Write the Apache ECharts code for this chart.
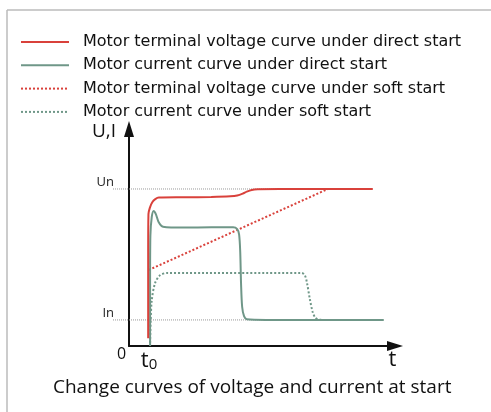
<!DOCTYPE html>
<html>
<head>
<meta charset="utf-8">
<script src="https://cdn.jsdelivr.net/npm/echarts@6/dist/echarts.min.js"></script>
<style>
  html, body { margin: 0; padding: 0; background: #fff; }
  #chart { width: 491px; height: 412px; }
</style>
</head>
<body>
<div id="chart"></div>
<script>
// time in arbitrary units, values in % of Un
const seriesNames = [
  'Motor terminal voltage curve under direct start',
  'Motor current curve under direct start',
  'Motor terminal voltage curve under soft start',
  'Motor current curve under soft start'
]
const voltageDirect = [[7.0, 5], [7.0, 60], [7.1, 84], [7.6, 88], [8.5, 91.5], [9.6, 93.5], [10.9, 94.5], [20, 94.7], [30, 94.9], [37, 95.3], [39.5, 95.8], [41.5, 97], [43, 98.3], [44.8, 99.4], [47, 99.8], [55, 100], [89, 100]]
const currentDirect = [[7.7, 0], [7.7, 40], [7.8, 70], [8.3, 82], [9.0, 86], [9.8, 84], [10.8, 79], [12.4, 76], [20, 75.4], [30, 75.6], [38, 75.6], [39.5, 74.5], [40.2, 71], [40.6, 60], [40.9, 40], [41.3, 25], [42, 19], [43, 17], [50, 16.6], [93, 16.6]]
const voltageSoft = [[7.2, 48.4], [72.6, 100]]
const currentSoft = [[7.7, 2], [7.9, 15], [8.3, 29], [9.5, 40], [11.3, 45], [13.9, 46.5], [63, 46.5], [64.2, 45], [65, 40], [66, 30], [67, 22], [68, 18], [69.5, 16.8], [72, 16.6]]
const unLine = [[-5.8, 100], [54.4, 100]]
const inLine = [[-5.8, 16.6], [54.4, 16.6]]
const yTickValues = [16.6, 100]
const yTickLabels = ['In', 'Un']
const xTickValues = [7.3, 96.2]
const xTickLabels = ['{t|t}{s|0}', '{t|t}']

const red = '#d9413b'
const green = '#6f9788'

let myChart = echarts.init(document.getElementById('chart'), null, { renderer: 'canvas' })

let option = {
  animation: false,
  title: {
    text: 'Change curves of voltage and current at start',
    left: 48,
    top: 373,
    textStyle: { fontFamily: 'Open Sans', fontSize: 19, fontWeight: 'normal', color: '#111' }
  },
  legend: {
    orient: 'vertical',
    left: 15,
    top: 29,
    itemWidth: 48,
    itemHeight: 14,
    itemGap: 7.3,
    data: seriesNames,
    itemStyle: { opacity: 0 },
    textStyle: { fontFamily: 'DejaVu Sans', fontSize: 16, lineHeight: 14, color: '#111', padding: [0, 0, 0, 9] }
  },
  grid: [
    { left: 129, right: 96, top: 129, bottom: 66 },
    // same scale, widened to the left so the Un / In guides can start left of the axis
    { left: 113, right: 96, top: 129, bottom: 66 }
  ],
  xAxis: [
    {
      type: 'value',
      min: 0,
      max: 97.1,
      splitLine: { show: false },
      axisTick: { show: false },
      axisLine: { onZero: false, lineStyle: { color: '#111', width: 2 }, symbol: ['none', 'triangle'], symbolSize: [10, 16] },
      axisLabel: {
        customValues: xTickValues,
        formatter: (v) => xTickLabels[xTickValues.indexOf(v)],
        margin: 3,
        rich: {
          t: { fontFamily: 'Open Sans', fontSize: 22, color: '#111' },
          s: { fontFamily: 'Open Sans', fontSize: 15, color: '#111', verticalAlign: 'bottom', padding: [8, 0, 0, 0] }
        }
      }
    },
    { type: 'value', gridIndex: 1, min: -5.8, max: 97.1, show: false }
  ],
  yAxis: [
    {
      type: 'value',
      min: 0,
      max: 138.2,
      splitLine: { show: false },
      axisTick: { show: false },
      axisLine: { show: true, onZero: false, lineStyle: { color: '#111', width: 2 }, symbol: ['none', 'triangle'], symbolSize: [10, 16] },
      axisLabel: {
        customValues: yTickValues,
        formatter: (v) => yTickLabels[yTickValues.indexOf(v)],
        margin: 15,
        verticalAlign: 'bottom',
        fontFamily: 'Open Sans',
        fontSize: 13,
        color: '#222'
      }
    },
    { type: 'value', gridIndex: 1, min: 0, max: 138.2, show: false }
  ],
  graphic: [
    { type: 'line', shape: { x1: 7, y1: 10, x2: 491, y2: 10 }, style: { stroke: '#bbb', lineWidth: 1.5 } },
    { type: 'line', shape: { x1: 7, y1: 10, x2: 7, y2: 412 }, style: { stroke: '#bbb', lineWidth: 1.5 } },
    { type: 'text', left: 92, top: 122, style: { text: 'U,I', font: '19px "Open Sans"', fill: '#111' } },
    { type: 'text', left: 117, top: 346, style: { text: '0', font: '16px "Open Sans"', fill: '#111' } }
  ],
  series: [
    {
      name: 'Un', type: 'line', xAxisIndex: 1, yAxisIndex: 1, data: unLine, symbol: 'none', silent: true,
      lineStyle: { color: '#999', width: 1, type: 'dotted' }
    },
    {
      name: 'In', type: 'line', xAxisIndex: 1, yAxisIndex: 1, data: inLine, symbol: 'none', silent: true,
      lineStyle: { color: '#999', width: 1, type: 'dotted' }
    },
    {
      name: seriesNames[3], type: 'line', data: currentSoft, symbol: 'none', smooth: 0.3,
      color: green, lineStyle: { color: green, width: 2, type: 'dotted' }
    },
    {
      name: seriesNames[2], type: 'line', data: voltageSoft, symbol: 'none',
      color: red, lineStyle: { color: red, width: 2, type: 'dotted' }
    },
    {
      name: seriesNames[1], type: 'line', data: currentDirect, symbol: 'none', smooth: 0.3,
      color: green, lineStyle: { color: green, width: 2 }
    },
    {
      name: seriesNames[0], type: 'line', data: voltageDirect, symbol: 'none', smooth: 0.3,
      color: red, lineStyle: { color: red, width: 2 }
    }
  ]
}
myChart.setOption(option)
</script>
</body>
</html>
